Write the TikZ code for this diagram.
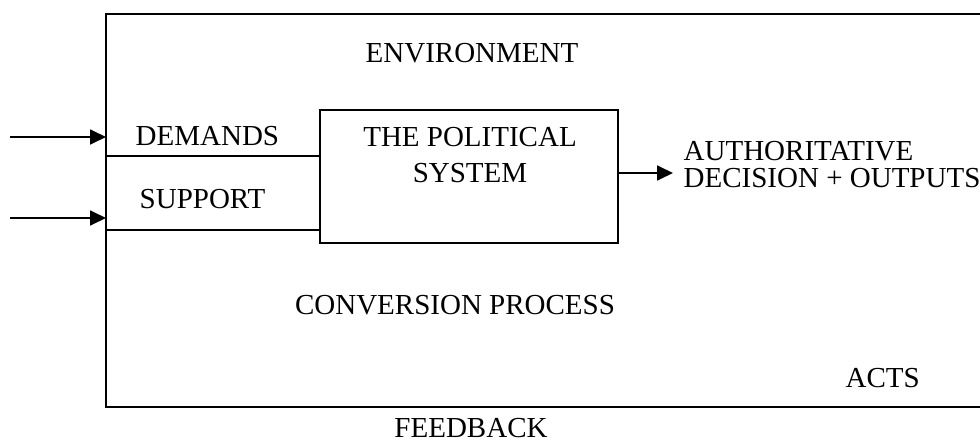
\documentclass[tikz,border=0pt]{standalone}
\usepackage{fontspec}
\setmainfont{Liberation Serif}
\usetikzlibrary{arrows.meta}

\begin{document}
\begin{tikzpicture}
  [x=1pt,y=-1pt,line width=1.4pt,
   every node/.style={inner sep=0pt,font=\fontsize{29}{29}\selectfont},
   arr/.style={line width=1.8pt,-{Triangle[length=16pt,width=15pt]}}]
  \useasboundingbox (0,0) rectangle (980,444);
  \coordinate (ftl) at (106,14);
  \coordinate (ftr) at (980,14);
  \coordinate (fbl) at (106,407);
  \coordinate (fbr) at (980,407);
  \draw[line width=1.8pt] (ftr) -- (ftl) -- (fbl) -- (fbr);
  \node[draw,minimum width=298pt,minimum height=133pt] (nsys) at (469,176.5) {};
  \node[anchor=north,align=center,font=\fontsize{29}{36}\selectfont] (ntitle) at (470,127) {THE POLITICAL\\SYSTEM};
  \node[anchor=north] (nenv) at (472,43) {ENVIRONMENT};
  \node[anchor=north west] (ndem) at (135,126) {DEMANDS};
  \node[anchor=north west] (nsup) at (139,189) {SUPPORT};
  \node[anchor=north west,align=left,font=\fontsize{29}{27}\selectfont] (nout) at (683,141) {AUTHORITATIVE\\DECISION + OUTPUTS};
  \node[anchor=north] (nconv) at (455,295) {CONVERSION PROCESS};
  \node[anchor=north west] (nacts) at (845,368) {ACTS};
  \node[anchor=north] (nfeed) at (471,418) {FEEDBACK};
  \coordinate (cdin) at (10,137);
  \coordinate (cdend) at (106,137);
  \coordinate (csin) at (10,218);
  \coordinate (csend) at (106,218);
  \coordinate (cdl) at (106,156);
  \coordinate (csl) at (106,230);
  \coordinate (cout) at (673,173);
  \draw[arr] (cdin) -- (cdend);
  \draw[arr] (csin) -- (csend);
  \draw (cdl) -- (cdl -| nsys.west);
  \draw (csl) -- (csl -| nsys.west);
  \draw[arr] (cout -| nsys.east) -- (cout);
\end{tikzpicture}
\end{document}
